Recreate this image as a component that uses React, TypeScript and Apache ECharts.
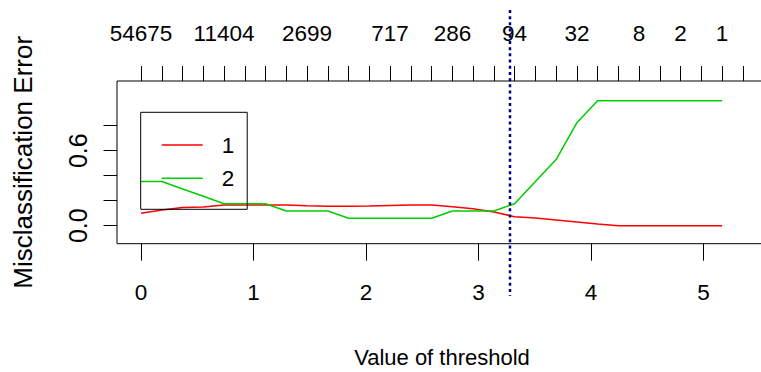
import React, { useEffect, useRef } from "react";
import * as echarts from "echarts";

// threshold values (top-axis tick positions)
const thresholds = [
  0, 0.185, 0.369, 0.554, 0.738, 0.923, 1.107, 1.292, 1.476, 1.661, 1.845, 2.03,
  2.214, 2.399, 2.583, 2.768, 2.952, 3.137, 3.321, 3.506, 3.69, 3.875, 4.059,
  4.244, 4.428, 4.613, 4.797, 4.982, 5.166, 5.351,
];
// misclassification error, class 1 (red)
const errClass1 = [
  0.099, 0.125, 0.145, 0.15, 0.166, 0.166, 0.166, 0.166, 0.16, 0.155, 0.155,
  0.158, 0.162, 0.166, 0.166, 0.152, 0.135, 0.11, 0.072, 0.062, 0.046, 0.03,
  0.014, 0, 0, 0, 0, 0, 0,
];
// misclassification error, class 2 (green)
const errClass2 = [
  0.353, 0.353, 0.294, 0.235, 0.176, 0.176, 0.176, 0.118, 0.118, 0.118, 0.059,
  0.059, 0.059, 0.059, 0.059, 0.118, 0.118, 0.118, 0.176, 0.353, 0.529, 0.824,
  1, 1, 1, 1, 1, 1, 1,
];
// number of genes shown on the top axis, and at which threshold index
const sizeLabels = ["54675", "11404", "2699", "717", "286", "94", "32", "8", "2", "1"];
const sizeLabelIdx = [0, 4, 8, 12, 15, 18, 21, 24, 26, 28];
const xTicks = [0, 1, 2, 3, 4, 5];
const yTicks = [0, 0.2, 0.4, 0.6, 0.8];
const yLabelValues = [0, 0.6];
const cutoff = 3.28;
const classNames = ["1", "2"];

const SANS = "'Liberation Sans', Arial, sans-serif";
const FS = 22.5;

export default function App() {
  const ref = useRef<HTMLDivElement>(null);
  useEffect(() => {
    if (!ref.current) return;
    const chart = echarts.init(ref.current, null, { renderer: "svg" });
    const xMin = -0.214;
    const xMax = 5.565;
    const topLabelVals = sizeLabelIdx.map((i) => thresholds[i]);
    const labelFor = (v: number) => {
      let best = -1;
      let bd = 1e9;
      topLabelVals.forEach((t, k) => {
        const d = Math.abs(t - v);
        if (d < bd) {
          bd = d;
          best = k;
        }
      });
      return bd < 1e-3 ? sizeLabels[best] : "";
    };
    const lineData = (arr: number[]) => arr.map((v, i) => [thresholds[i], v]);
    chart.setOption({
      animation: false,
      backgroundColor: "#fff",
      grid: {
        left: 117,
        top: 81,
        width: 650,
        height: 162.7,
        show: true,
        borderColor: "#000",
        borderWidth: 1,
        outerBoundsMode: "none",
        containLabel: false,
      },
      legend: {
        data: classNames,
        orient: "vertical",
        left: 140.7,
        top: 112.3,
        padding: [19.7, 13, 18, 21],
        borderColor: "#000",
        borderWidth: 1,
        borderRadius: 0,
        backgroundColor: "transparent",
        icon: "rect",
        itemWidth: 41,
        itemHeight: 1.5,
        itemGap: 7.3,
        selectedMode: false,
        textStyle: {
          fontFamily: SANS,
          fontSize: FS,
          lineHeight: 26,
          color: "#000",
          padding: [0, 0, 0, 14],
        },
      },
      xAxis: [
        {
          type: "value",
          position: "bottom",
          min: xMin,
          max: xMax,
          name: "Value of threshold",
          nameLocation: "middle",
          nameGap: 102.8,
          nameTextStyle: { fontFamily: SANS, fontSize: 22, color: "#000" },
          axisLine: { show: false, onZero: false },
          splitLine: { show: false },
          axisTick: {
            show: true,
            inside: false,
            length: 17,
            customValues: xTicks,
            lineStyle: { color: "#000", width: 1 },
          },
          axisLabel: {
            customValues: xTicks,
            margin: 37,
            fontFamily: SANS,
            fontSize: FS,
            color: "#000",
            formatter: (v: number) => String(v),
          },
        },
        {
          type: "value",
          position: "top",
          min: xMin,
          max: xMax,
          axisLine: { show: false, onZero: false },
          splitLine: { show: false },
          axisTick: {
            show: true,
            inside: false,
            length: 15,
            customValues: thresholds,
            lineStyle: { color: "#000", width: 1 },
          },
          axisLabel: {
            customValues: topLabelVals,
            margin: 36.5,
            fontFamily: SANS,
            fontSize: FS,
            color: "#000",
            formatter: (v: number) => labelFor(v),
          },
        },
      ],
      yAxis: {
        type: "value",
        min: -0.144,
        max: 1.1576,
        name: "Misclassification Error",
        nameLocation: "middle",
        nameGap: 81.5,
        nameTextStyle: { fontFamily: SANS, fontSize: 26, color: "#000" },
        axisLine: { show: false, onZero: false },
        splitLine: { show: false },
        axisTick: {
          show: true,
          inside: false,
          length: 13.5,
          customValues: yTicks,
          lineStyle: { color: "#000", width: 1 },
        },
        axisLabel: {
          customValues: yLabelValues,
          rotate: 90,
          margin: 27,
          fontFamily: SANS,
          fontSize: 25,
          color: "#000",
          formatter: (v: number) => v.toFixed(1),
        },
      },
      series: [
        {
          name: classNames[0],
          type: "line",
          data: lineData(errClass1),
          symbol: "none",
          lineStyle: { color: "#FF0000", width: 1.5 },
          itemStyle: { color: "#FF0000" },
        },
        {
          name: classNames[1],
          type: "line",
          data: lineData(errClass2),
          symbol: "none",
          lineStyle: { color: "#00CD00", width: 1.5 },
          itemStyle: { color: "#00CD00" },
        },
        {
          name: "cutoff",
          type: "custom",
          clip: false,
          data: [[cutoff, 1.726, -0.562]],
          renderItem: (params: any, api: any) => {
            const p1 = api.coord([api.value(0), api.value(1)]);
            const p2 = api.coord([api.value(0), api.value(2)]);
            return {
              type: "line",
              shape: { x1: p1[0], y1: p1[1], x2: p2[0], y2: p2[1] },
              style: { stroke: "#00007F", lineWidth: 2.5, lineDash: [3, 3.2] },
            };
          },
          z: 5,
        },
      ],
    });
    return () => chart.dispose();
  }, []);
  return (
    <div
      ref={ref}
      style={{ position: "fixed", left: 0, top: 0, width: 761, height: 372, background: "#fff" }}
    />
  );
}
